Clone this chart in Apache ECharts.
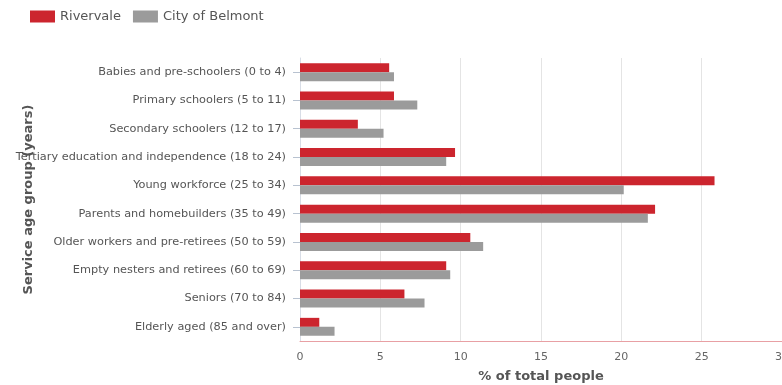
<!DOCTYPE html>
<html>
<head>
<meta charset="utf-8">
<script src="https://cdn.jsdelivr.net/npm/echarts@6/dist/echarts.min.js"></script>
<style>html,body{margin:0;padding:0;background:#fff;}#c{width:782px;height:385px;}</style>
</head>
<body>
<div id="c"></div>
<script>
const categories = [
  "Babies and pre-schoolers (0 to 4)",
  "Primary schoolers (5 to 11)",
  "Secondary schoolers (12 to 17)",
  "Tertiary education and independence (18 to 24)",
  "Young workforce (25 to 34)",
  "Parents and homebuilders (35 to 49)",
  "Older workers and pre-retirees (50 to 59)",
  "Empty nesters and retirees (60 to 69)",
  "Seniors (70 to 84)",
  "Elderly aged (85 and over)"
];
const rivervale = [5.55, 5.85, 3.6, 9.65, 25.8, 22.1, 10.6, 9.1, 6.5, 1.2];
const belmont = [5.85, 7.3, 5.2, 9.1, 20.15, 21.65, 11.4, 9.35, 7.75, 2.15];
const xTicks = [0, 5, 10, 15, 20, 25, 30];

const chart = echarts.init(document.getElementById('c'));
const font = 'DejaVu Sans';
chart.setOption({
  animation: false,
  textStyle: { fontFamily: font },
  legend: {
    left: 25, top: 5, itemWidth: 25, itemHeight: 12, itemGap: 12, icon: 'rect',
    textStyle: { fontFamily: font, fontSize: 13, color: '#555' },
    data: ['Rivervale', 'City of Belmont']
  },
  grid: { left: 300, right: 0, top: 58, bottom: 44, outerBoundsMode: 'none', containLabel: false },
  xAxis: {
    type: 'value', min: xTicks[0], max: xTicks[xTicks.length - 1], interval: 5,
    name: '% of total people', nameLocation: 'middle', nameGap: 29, nameMoveOverlap: false,
    nameTextStyle: { fontFamily: font, fontSize: 13, fontWeight: 'bold', color: '#555' },
    axisLine: { show: true, lineStyle: { color: '#e8a0a4', width: 1 } },
    axisTick: { show: false },
    axisLabel: { fontFamily: font, fontSize: 11, color: '#666', margin: 11 },
    splitLine: { show: true, lineStyle: { color: '#e4e4e4' } }
  },
  yAxis: {
    type: 'category', inverse: true, data: categories,
    name: 'Service age group (years)', nameLocation: 'middle', nameGap: 265, nameMoveOverlap: false,
    nameTextStyle: { fontFamily: font, fontSize: 13, fontWeight: 'bold', color: '#555', padding: [0, 0, 0, 0] },
    axisLine: { show: true, lineStyle: { color: '#d8dde6' } },
    axisTick: { show: true, alignWithLabel: true, length: 7, lineStyle: { color: '#b8c2d0' } },
    axisLabel: { fontFamily: font, fontSize: 11.3, color: '#555', margin: 14 }
  },
  series: [
    { name: 'Rivervale', type: 'bar', data: rivervale, barWidth: 9, barGap: '0%',
      itemStyle: { color: '#cc252e' } },
    { name: 'City of Belmont', type: 'bar', data: belmont, barWidth: 9, barGap: '0%',
      itemStyle: { color: '#9b9b9b' } }
  ]
});
</script>
</body>
</html>
